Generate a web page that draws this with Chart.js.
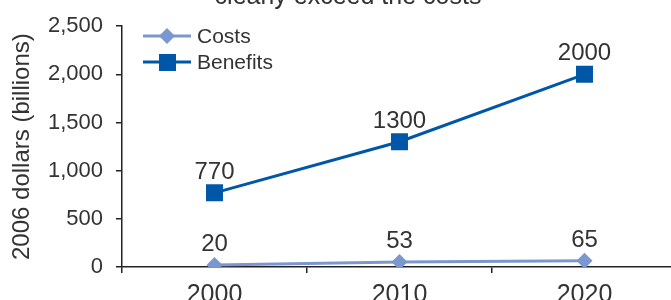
<!DOCTYPE html>
<html>
<head>
<meta charset="utf-8">
<script src="https://cdn.jsdelivr.net/npm/chart.js@4/dist/chart.umd.min.js"></script>
<style>
  html, body { margin: 0; padding: 0; background: #fff; }
  #wrap { position: relative; width: 671px; height: 300px; overflow: hidden; }
  #chart { position: absolute; left: 0; top: 0; }
</style>
</head>
<body>
<div id="wrap"><canvas id="chart" width="690" height="300"></canvas></div>
<script>
const years = ["2000", "2010", "2020"];
const costs = [20, 53, 65];
const benefits = [770, 1300, 2000];
const yTicks = [0, 500, 1000, 1500, 2000, 2500];

const costColor = "#7b97cf";
const benefitColor = "#0057a8";
const textColor = "#333333";
const font = "'Liberation Sans', Arial, sans-serif";

// value labels above each point
const valueLabels = {
  id: "valueLabels",
  afterDatasetsDraw(chart) {
    const ctx = chart.ctx;
    ctx.save();
    ctx.fillStyle = textColor;
    ctx.font = "24px " + font;
    ctx.textAlign = "center";
    ctx.textBaseline = "alphabetic";
    chart.data.datasets.forEach((ds, i) => {
      chart.getDatasetMeta(i).data.forEach((pt, j) => {
        ctx.fillText(String(ds.data[j]), pt.x, pt.y - 14);
      });
    });
    ctx.restore();
  }
};

// title strip (cut off at the top) and line+marker legend
const extras = {
  id: "extras",
  afterDraw(chart) {
    const ctx = chart.ctx;
    ctx.save();
    ctx.fillStyle = textColor;
    ctx.font = "25px " + font;
    ctx.textAlign = "center";
    ctx.textBaseline = "alphabetic";
    ctx.fillText("clearly exceed the costs", 348, 4);

    const items = [
      { label: "Costs", color: costColor, shape: "diamond", y: 36 },
      { label: "Benefits", color: benefitColor, shape: "square", y: 62 }
    ];
    items.forEach(it => {
      ctx.strokeStyle = it.color;
      ctx.fillStyle = it.color;
      ctx.lineWidth = 3;
      ctx.beginPath();
      ctx.moveTo(143, it.y);
      ctx.lineTo(191, it.y);
      ctx.stroke();
      ctx.beginPath();
      if (it.shape === "diamond") {
        ctx.moveTo(167, it.y - 8);
        ctx.lineTo(175, it.y);
        ctx.lineTo(167, it.y + 8);
        ctx.lineTo(159, it.y);
        ctx.closePath();
      } else {
        ctx.rect(159, it.y - 8, 17, 17);
      }
      ctx.fill();
      ctx.fillStyle = textColor;
      ctx.font = "21px " + font;
      ctx.textAlign = "left";
      ctx.textBaseline = "middle";
      ctx.fillText(it.label, 197, it.y + 1);
    });
    ctx.restore();
  }
};

new Chart(document.getElementById("chart"), {
  type: "line",
  data: {
    labels: years,
    datasets: [
      {
        label: "Costs",
        data: costs,
        borderColor: costColor,
        backgroundColor: costColor,
        borderWidth: 3,
        pointStyle: "rectRot",
        pointRadius: 8,
        pointHoverRadius: 8,
        pointBorderWidth: 0,
        tension: 0
      },
      {
        label: "Benefits",
        data: benefits,
        borderColor: benefitColor,
        backgroundColor: benefitColor,
        borderWidth: 3,
        pointStyle: "rect",
        pointRadius: 12,
        pointHoverRadius: 12,
        pointBorderWidth: 0,
        tension: 0
      }
    ]
  },
  options: {
    responsive: false,
    animation: false,
    devicePixelRatio: 1,
    layout: { padding: { top: 24, right: 13, left: 0, bottom: 0 } },
    plugins: {
      legend: { display: false },
      tooltip: { enabled: false }
    },
    scales: {
      x: {
        offset: true,
        grid: {
          offset: true,
          drawOnChartArea: false,
          drawTicks: true,
          tickLength: 6,
          color: "#222",
          lineWidth: 1.5
        },
        border: { color: "#222", width: 1.5 },
        ticks: {
          color: textColor,
          font: { family: font, size: 25 },
          padding: 7,
          maxRotation: 0
        },
        afterFit: scale => { scale.height = 33; }
      },
      y: {
        min: 0,
        max: 2500,
        afterBuildTicks: scale => { scale.ticks = yTicks.map(v => ({ value: v })); },
        grid: {
          drawOnChartArea: false,
          drawTicks: true,
          tickLength: 6,
          color: "#222",
          lineWidth: 1.5
        },
        border: { color: "#222", width: 1.5 },
        ticks: {
          color: textColor,
          font: { family: font, size: 22 },
          padding: 13,
          callback: v => v.toLocaleString("en-US")
        },
        title: {
          display: true,
          text: "2006 dollars (billions)",
          color: textColor,
          font: { family: font, size: 24 },
          padding: { top: 8, bottom: 0 }
        },
        afterFit: scale => { scale.width = 122; }
      }
    }
  },
  plugins: [valueLabels, extras]
});
</script>
</body>
</html>
